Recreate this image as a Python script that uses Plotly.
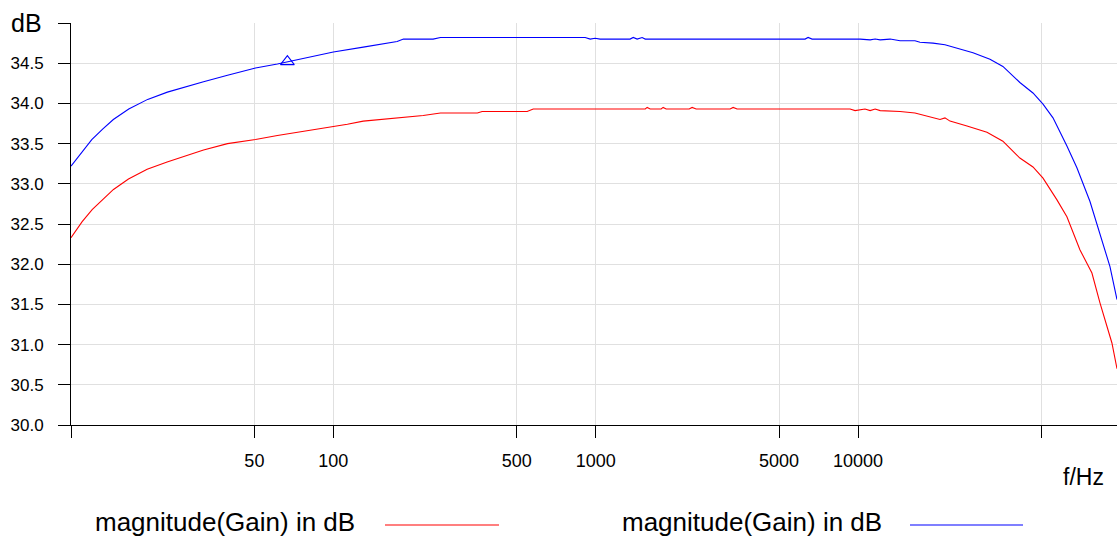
import plotly.graph_objects as go
from plotly.graph_objects import Figure

# frequency response (Hz, dB)
FREQ_BLUE = [
    10.0, 11.0, 12.0, 13.2, 14.5, 16.6, 19.6, 23.3, 26.8, 32.0, 39.5, 50.5,
    61.2, 76.9, 100, 130, 175, 185, 240, 256, 912, 953, 995, 1040, 1352, 1390,
    1439, 1503, 1545, 6280, 6450, 6680, 10190, 11120, 11620, 12140, 13250,
    14460, 16480, 17220, 19310, 21440, 23000, 27420, 31830, 35650, 41380,
    46420, 50700, 55340, 62530, 68260, 76560, 83570, 91240, 97050,
]
GAIN_BLUE = [
    33.22, 33.40, 33.55, 33.68, 33.80, 33.93, 34.05, 34.14, 34.20, 34.27, 34.35,
    34.44, 34.49, 34.56, 34.64, 34.70, 34.77, 34.80, 34.80, 34.82, 34.82, 34.80,
    34.81, 34.80, 34.80, 34.82, 34.80, 34.82, 34.80, 34.80, 34.82, 34.80, 34.80,
    34.79, 34.80, 34.79, 34.80, 34.78, 34.78, 34.76, 34.75, 34.73, 34.70, 34.63,
    34.55, 34.46, 34.26, 34.13, 33.99, 33.82, 33.47, 33.20, 32.78, 32.37, 31.97,
    31.56,
]

FREQ_RED = [
    10.0, 11.03, 12.04, 13.15, 14.52, 16.56, 19.51, 23.25, 26.8, 32.0, 39.5,
    50.5, 61.2, 76.9, 100, 113.1, 130, 151, 175, 220, 256, 354, 369, 548, 578,
    1545, 1571, 1613, 1776, 1807, 1856, 2271, 2331, 2415, 3253, 3341, 3459,
    9322, 9740, 10630, 11120, 11620, 12140, 14460, 16480, 19310, 20530, 21440,
    22410, 26020, 31000, 35650, 41380, 46420, 50700, 57300, 62530, 70080,
    77880, 83570, 92820, 97050,
]
GAIN_RED = [
    32.33, 32.53, 32.68, 32.80, 32.93, 33.06, 33.18, 33.27, 33.34, 33.42, 33.50,
    33.55, 33.60, 33.65, 33.71, 33.74, 33.78, 33.80, 33.82, 33.85, 33.88, 33.88,
    33.90, 33.90, 33.93, 33.93, 33.95, 33.93, 33.93, 33.95, 33.93, 33.93, 33.95,
    33.93, 33.93, 33.95, 33.93, 33.93, 33.91, 33.93, 33.91, 33.93, 33.91, 33.90,
    33.88, 33.82, 33.80, 33.82, 33.78, 33.72, 33.64, 33.53, 33.32, 33.21, 33.07,
    32.80, 32.59, 32.18, 31.89, 31.52, 31.02, 30.70,
]

# cursor marker on the blue trace
MARKER_FREQ = [66.8]
MARKER_GAIN = [34.52]

X_TICKS = [10, 50, 100, 500, 1000, 5000, 10000, 50000]
X_TICK_TEXT = ["", "50", "100", "500", "1000", "5000", "10000", ""]
Y_TICKS = [30.0, 30.5, 31.0, 31.5, 32.0, 32.5, 33.0, 33.5, 34.0, 34.5, 35.0]
Y_TICK_TEXT = ["30.0", "30.5", "31.0", "31.5", "32.0", "32.5", "33.0",
               "33.5", "34.0", "34.5", ""]

LEGEND_LABEL = "magnitude(Gain) in dB"
FONT = "Liberation Sans, Arial, sans-serif"

W, H = 1117, 542
L, R, T, B = 71, 0, 23, 117


def px_x(px):
    # pixel column -> paper x
    return (px - L) / (W - L - R)


def px_y(py):
    # pixel row -> paper y
    return (H - B - py) / (H - T - B)


def make_plot() -> Figure:
    fig = go.Figure()

    fig.add_trace(go.Scatter(x=FREQ_RED, y=GAIN_RED, mode="lines",
                             line=dict(color="#ff0000", width=1.1),
                             name=LEGEND_LABEL, showlegend=False))
    fig.add_trace(go.Scatter(x=FREQ_BLUE, y=GAIN_BLUE, mode="lines",
                             line=dict(color="#0000ff", width=1.1),
                             name=LEGEND_LABEL, showlegend=False))
    fig.add_trace(go.Scatter(x=MARKER_FREQ, y=MARKER_GAIN, mode="markers",
                             marker=dict(symbol="triangle-up-open", size=12,
                                         color="#0000ff", line=dict(width=1.1)),
                             showlegend=False))

    axis_common = dict(
        showline=True, linecolor="black", linewidth=1,
        ticks="outside", ticklen=12, tickcolor="black", tickwidth=1,
        gridcolor="#e0e0e0", gridwidth=1, zeroline=False,
    )

    fig.update_layout(
        width=W, height=H,
        margin=dict(l=L, r=R, t=T, b=B),
        paper_bgcolor="white", plot_bgcolor="white",
        font=dict(family=FONT, color="black"),
        xaxis=dict(type="log", range=[1, 4.987], tickmode="array",
                   tickvals=X_TICKS, ticktext=X_TICK_TEXT,
                   tickfont=dict(family=FONT, size=18, color="black"),
                   ticklabelstandoff=7, **axis_common),
        yaxis=dict(range=[30, 35], tickmode="array",
                   tickvals=Y_TICKS, ticktext=Y_TICK_TEXT,
                   tickfont=dict(family=FONT, size=17, color="black"),
                   ticklabelstandoff=11, **axis_common),
    )

    # axis titles sit where the chart puts them
    fig.add_annotation(text="dB", x=px_x(44), y=1.0, xref="paper", yref="paper",
                       xanchor="right", yanchor="middle", showarrow=False,
                       font=dict(size=25))
    fig.add_annotation(text="f/Hz", x=px_x(1106), y=px_y(477), xref="paper",
                       yref="paper", xanchor="right", yanchor="middle",
                       showarrow=False, font=dict(size=23))

    # legend: label first, line sample after it
    for right_edge, l0, l1, color in [(357, 385, 499, "#ff0000"),
                                       (884, 910, 1023, "#0000ff")]:
        fig.add_annotation(text=LEGEND_LABEL, x=px_x(right_edge), y=px_y(522),
                           xref="paper", yref="paper", xanchor="right",
                           yanchor="middle", showarrow=False, font=dict(size=26))
        fig.add_shape(type="line", xref="paper", yref="paper",
                      x0=px_x(l0), x1=px_x(l1), y0=px_y(525), y1=px_y(525),
                      line=dict(color=color, width=1.1))

    return fig


def main():
    fig = make_plot()
    # page has a default body margin; drop it so the chart sits at 0,0
    fig.write_html("out.html", config={"displayModeBar": False},
                   post_script="document.body.style.margin='0';")


if __name__ == "__main__":
    main()
